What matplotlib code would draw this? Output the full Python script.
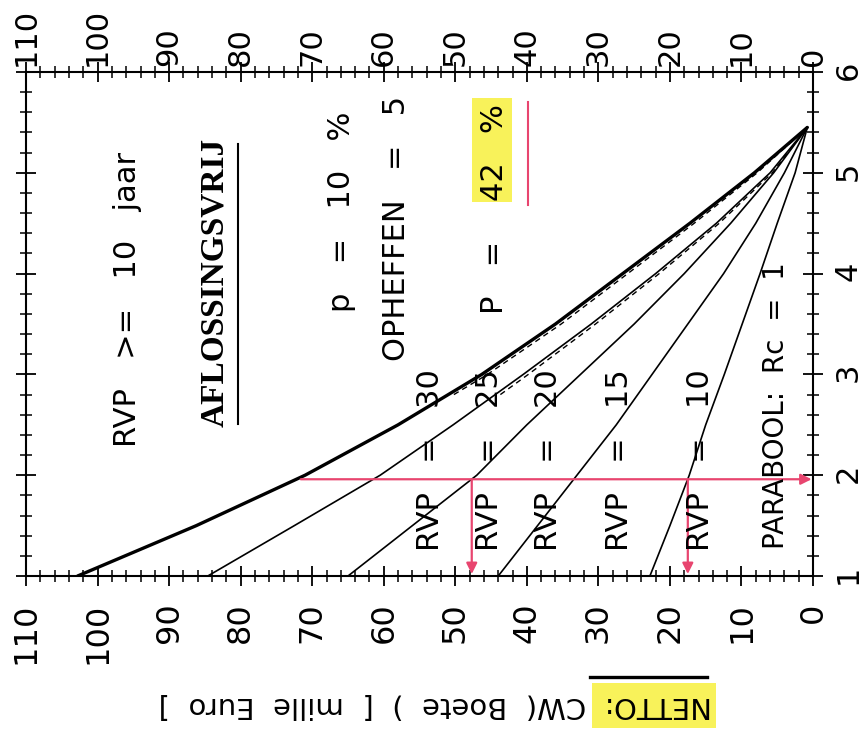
import matplotlib
matplotlib.use('Agg')
import matplotlib.pyplot as plt
from matplotlib.patches import Rectangle
from matplotlib.ticker import MultipleLocator

# ---------------- data ----------------
rate = [1.0, 1.5, 2.0, 2.5, 3.0, 3.5, 4.0, 4.5, 5.0, 5.45]
cw_rvp30 = [102.8, 86.2, 71.0, 58.0, 46.3, 36.0, 26.6, 17.2, 8.2, 0.8]
cw_rvp25 = [84.6, 72.5, 60.5, 50.3, 40.5, 31, 22, 13.5, 6, 0.8]
cw_rvp20 = [65, 56, 47, 40, 32.5, 25, 18, 11.5, 5.5, 0.8]
cw_rvp15 = [44, 38.5, 33, 27.5, 22.5, 17.5, 12.5, 8, 4, 0.8]
cw_rvp10 = [22.8, 20, 17.3, 15, 12.4, 9.9, 7.4, 5, 2.5, 0.8]

rate_dash = [2.8, 3.0, 3.5, 4.0, 4.5, 5.0, 5.45]
cw_dash30 = [50.2, 45.5, 35.2, 25.9, 16.6, 7.8, 0.8]
cw_dash25 = [43.7, 39.8, 30.4, 21.5, 13.1, 5.7, 0.8]

rvp_labels = ["RVP   =   30", "RVP   =   25", "RVP   =   20",
              "RVP   =   15", "RVP   =   10"]
rvp_label_cw = [53.5, 45.2, 37.0, 27.0, 15.7]

red_rate = 1.96
red_start_cw = 71.6
red_drop_cw = [47.7, 17.5]

cw_ticks = list(range(0, 111, 10))
rate_ticks = [1, 2, 3, 4, 5, 6]

RED = '#e8456f'
YELLOW = '#f8f25a'
FONT = 'DejaVu Sans'

fig = plt.figure(figsize=(8.65, 7.31), dpi=100)
ax = fig.add_axes([0.0301, 0.2120, 0.9098, 0.6895])

# curves
ax.plot(cw_rvp30, rate, color='black', lw=2.4, solid_capstyle='round',
        solid_joinstyle='round')
ax.plot(cw_rvp25, rate, color='black', lw=1.2)
ax.plot(cw_rvp20, rate, color='black', lw=1.2)
ax.plot(cw_rvp15, rate, color='black', lw=1.2)
ax.plot(cw_rvp10, rate, color='black', lw=1.2)
ax.plot(cw_dash30, rate_dash, color='black', lw=1.0, ls=(0, (4, 3)))
ax.plot(cw_dash25, rate_dash, color='black', lw=1.0, ls=(0, (4, 3)))

# red reading lines
ax.annotate('', xy=(0.2, red_rate), xytext=(red_start_cw, red_rate),
            arrowprops=dict(arrowstyle='-|>', color=RED, lw=1.6,
                            mutation_scale=16, shrinkA=0, shrinkB=0))
for c in red_drop_cw:
    ax.annotate('', xy=(c, 1.02), xytext=(c, red_rate),
                arrowprops=dict(arrowstyle='-|>', color=RED, lw=1.6,
                                mutation_scale=16, shrinkA=0, shrinkB=0))

# axes setup
ax.set_xlim(110, 0)
ax.set_ylim(1, 6)
ax.xaxis.set_major_locator(MultipleLocator(10))
ax.xaxis.set_minor_locator(MultipleLocator(2))
ax.yaxis.set_major_locator(MultipleLocator(1))
ax.yaxis.set_minor_locator(MultipleLocator(0.2))
ax.set_xticks(cw_ticks)
ax.set_yticks(rate_ticks)
for s in ax.spines.values():
    s.set_linewidth(1.5)
ax.tick_params(which='both', direction='inout', top=True, bottom=True,
               left=True, right=True, labelleft=False, labelright=True,
               labeltop=False, labelbottom=True)
ax.tick_params(which='major', length=14, width=1.3)
ax.tick_params(which='minor', length=9, width=1.1)
ax.tick_params(axis='x', labelrotation=90, pad=12, labelsize=23)
ax.tick_params(axis='y', labelrotation=90, pad=8, labelsize=22)
for lbl in ax.get_xticklabels() + ax.get_yticklabels():
    lbl.set_fontfamily(FONT)

sec = ax.secondary_xaxis('top')
sec.set_xticks(cw_ticks)
sec.tick_params(axis='x', length=0, pad=4, labelrotation=90, labelsize=22)
sec.spines['top'].set_visible(False)
for lbl in sec.get_xticklabels():
    lbl.set_fontfamily(FONT)

# texts inside the plot
tk = dict(rotation=90, rotation_mode='anchor', ha='left', va='center',
          fontsize=22, family=FONT)
ax.text(95.8, 2.28, "RVP   >=   10   jaar", **tk)
ax.text(83.6, 2.48, "AFLOSSINGSVRIJ", rotation=90, rotation_mode='anchor',
        ha='left', va='center', fontsize=24, family='Liberation Serif',
        fontweight='bold')
ax.plot([80.4, 80.4], [2.51, 5.29], color='black', lw=1.5)
ax.text(65.9, 3.62, "p   =   10   %", **tk)
ax.text(58.2, 3.13, "OPHEFFEN   =   5", **tk)
ax.add_patch(Rectangle((42.1, 4.71), 5.5, 1.03, facecolor=YELLOW,
                       edgecolor='none', zorder=0))
ax.text(44.5, 3.6, "P   =", **tk)
ax.text(44.5, 4.72, "42   %", **tk)
ax.plot([39.9, 39.9], [4.68, 5.70], color=RED, lw=1.5)
for lab, c in zip(rvp_labels, rvp_label_cw):
    ax.text(c, 1.25, lab, **tk)
ax.text(5.2, 1.27, "PARABOOL:  Rc  =  1", rotation=90, rotation_mode='anchor',
        ha='left', va='center', fontsize=20, family=FONT)

# axis title (upside down)
fig.patches.append(Rectangle((0.684, 0.004), 0.144, 0.062,
                             transform=fig.transFigure, facecolor=YELLOW,
                             edgecolor='none', zorder=0))
fig.lines.append(plt.Line2D([0.682, 0.817], [0.074, 0.074],
                            transform=fig.transFigure, color='black', lw=2.4))
fig.text(0.503, 0.0356, "NETTO:  CW(  Boete  )  [  mille  Euro  ]",
         rotation=180, ha='center', va='center', fontsize=21, family=FONT)

fig.savefig('out.png', dpi=100)
